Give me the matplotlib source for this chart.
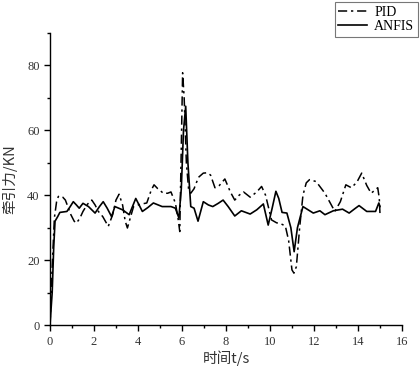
import matplotlib
matplotlib.use("Agg")
import matplotlib.pyplot as plt
from matplotlib.ticker import MultipleLocator

t_pid = [0, 0.1, 0.2, 0.3, 0.38, 0.45, 0.58, 0.7, 0.95, 1.1, 1.2, 1.35, 1.5, 1.7, 1.9, 2.05, 2.2, 2.4, 2.65, 2.85, 3.0, 3.14, 3.3, 3.42, 3.52, 3.65, 3.8, 4.1, 4.4, 4.6, 4.73, 4.9, 5.0, 5.15, 5.35, 5.5, 5.7, 5.82, 5.9, 5.97, 6.03, 6.1, 6.2, 6.3, 6.4, 6.55, 6.75, 6.97, 7.15, 7.3, 7.5, 7.7, 7.95, 8.2, 8.4, 8.6, 8.8, 9.1, 9.4, 9.62, 9.8, 10.07, 10.3, 10.5, 10.7, 10.85, 11.0, 11.09, 11.2, 11.35, 11.5, 11.65, 11.8, 12.1, 12.5, 12.95, 13.2, 13.45, 13.7, 13.95, 14.17, 14.4, 14.6, 14.9, 14.97, 15.0]
y_pid = [0, 18, 33, 38, 39.6, 39.8, 39.4, 38.5, 34, 32, 31.4, 32.8, 35, 37.2, 38.5, 37, 35, 33.4, 30.4, 34, 38.5, 40.3, 37, 32, 29.9, 33, 36.5, 37.2, 37.6, 41.5, 43.2, 42, 41.5, 40.6, 40.6, 41, 37.6, 33, 28.8, 55, 77.7, 70, 50, 42, 40.6, 42, 45.5, 46.8, 46.9, 46.2, 42.3, 43, 45, 41, 38.5, 40, 41, 39.4, 41, 42.7, 40, 32.4, 31.5, 31.2, 30.5, 26, 17, 16, 18, 30, 40, 43.8, 44.8, 44.2, 40.6, 35, 38, 43.2, 42.3, 44, 46.8, 43, 40.6, 42.3, 39, 34.5]

t_anfis = [0, 0.1, 0.17, 0.23, 0.35, 0.45, 0.77, 0.92, 1.06, 1.2, 1.33, 1.5, 1.75, 2.05, 2.25, 2.42, 2.6, 2.8, 2.95, 3.3, 3.6, 3.75, 3.9, 4.05, 4.2, 4.45, 4.7, 5.1, 5.5, 5.7, 5.86, 5.97, 6.07, 6.17, 6.27, 6.4, 6.55, 6.73, 6.85, 6.97, 7.2, 7.4, 7.65, 7.87, 8.1, 8.4, 8.7, 9.1, 9.4, 9.7, 9.92, 10.1, 10.27, 10.4, 10.55, 10.77, 10.95, 11.1, 11.25, 11.5, 11.97, 12.27, 12.5, 12.88, 13.3, 13.6, 13.85, 14.05, 14.4, 14.8, 14.95, 15.0]
y_anfis = [0, 10, 24, 32, 33.4, 34.7, 35, 36.5, 38, 37, 36, 37.5, 36.5, 34.5, 36.5, 38, 36, 33.4, 36.5, 35.5, 34, 36.5, 39, 37, 35, 36.2, 37.6, 36.5, 36.5, 36, 33, 42, 60, 67.4, 50, 36.5, 36, 32, 35, 38, 37, 36.5, 37.5, 38.5, 36.5, 33.6, 35.2, 34.2, 35.5, 37.3, 30.8, 36, 41.2, 39, 34.7, 34.5, 30, 22.6, 30, 36.5, 34.5, 35.2, 34, 35.2, 35.7, 34.5, 35.8, 36.8, 35, 35, 37.6, 36.5]

xticks = [0, 2, 4, 6, 8, 10, 12, 14, 16]
yticks = [0, 20, 40, 60, 80]

fig = plt.figure(figsize=(4.2, 3.69), dpi=100)
ax = fig.add_axes([0.119, 0.119, 0.838, 0.792])

ax.plot(t_pid, y_pid, color='black', lw=1.1, linestyle=(0, (6, 2.5, 1.5, 2.5)), label='PID')
ax.plot(t_anfis, y_anfis, color='black', lw=1.2, linestyle='-', label='ANFIS')

ax.set_xlim(0, 16)
ax.set_ylim(0, 90)
ax.set_xticks(xticks)
ax.set_yticks(yticks)
ax.xaxis.set_minor_locator(MultipleLocator(1))
ax.yaxis.set_minor_locator(MultipleLocator(10))
for s in ['top', 'right']:
    ax.spines[s].set_visible(False)
for s in ['left', 'bottom']:
    ax.spines[s].set_linewidth(1.0)
ax.tick_params(which='major', direction='out', length=4, width=1, labelsize=9)
ax.tick_params(which='minor', direction='out', length=2.5, width=1)
for lab in ax.get_xticklabels() + ax.get_yticklabels():
    lab.set_fontfamily('Liberation Serif')
    lab.set_color('#333333')

ax.set_xlabel('时间t/s', family=['Noto Sans CJK SC', 'DejaVu Sans'], fontsize=10.5, color='#333333', labelpad=2)
ax.set_ylabel('牵引力/KN', family=['Noto Sans CJK SC', 'DejaVu Sans'], fontsize=10.5, color='#333333', labelpad=7)

leg = fig.legend(loc='upper right', bbox_to_anchor=(0.995, 0.994), frameon=True, fancybox=False,
                 prop={'family': 'Liberation Serif', 'size': 10}, handlelength=2.1,
                 borderpad=0.25, labelspacing=0.1, handletextpad=0.5, borderaxespad=0)
leg.get_frame().set_edgecolor('#555555')
leg.get_frame().set_linewidth(0.8)

fig.savefig('out.png', dpi=100)
